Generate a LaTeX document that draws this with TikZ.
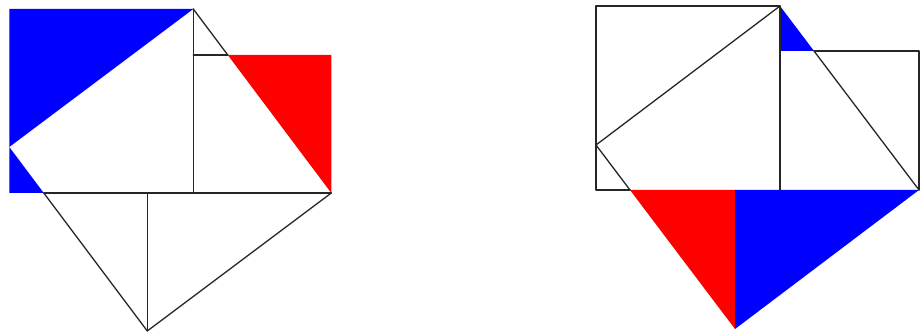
\documentclass[tikz,border=0pt]{standalone}
\usetikzlibrary{calc}
\tikzset{
  edge/.style={draw=black!85, line width=1.3pt, line cap=round, line join=round},
  bluefill/.style={fill={rgb,255:red,0;green,0;blue,255}},
  redfill/.style={fill={rgb,255:red,255;green,0;blue,0}},
}
% figure coordinates: #1 = a (big side), #2 = b (small side)
\newcommand{\pythpoints}[2]{%
  \pgfmathsetmacro{\pa}{#1}%
  \pgfmathsetmacro{\pb}{#2}%
  \pgfmathsetmacro{\pc}{#2*(#1-#2)/#1}%
  \coordinate (O) at (0,0);
  \coordinate (A) at (\pa,0);
  \coordinate (TL) at (0,\pa);
  \coordinate (P1) at (\pa,\pa);
  \coordinate (P2) at (\pa+\pb,0);
  \coordinate (P3) at (\pb,-\pb);
  \coordinate (P4) at (0,\pa-\pb);
  \coordinate (S1) at (\pa,\pb);
  \coordinate (S2) at (\pa+\pb,\pb);
  \coordinate (Q) at (\pa+\pc,\pb);
  \coordinate (R) at (\pc,0);
  \coordinate (M) at (\pb,0);
}
\begin{document}
\begin{tikzpicture}[x=1pt,y=1pt]
\useasboundingbox (0,0) rectangle (923,334);
\fill[white] (0,0) rectangle (923,334);
% left figure
\begin{scope}[shift={(9.3,141)}]
  \pythpoints{184}{138}
  \path[bluefill] (P4) -- (TL) -- (P1) -- cycle;
  \path[bluefill] (O) -- (P4) -- (R) -- cycle;
  \path[redfill] (Q) -- (S2) -- (P2) -- cycle;
  \draw[edge] (A) -- (P1);
  \draw[edge] (S1) -- (Q);
  \draw[edge] (R) -- (P2);
  \draw[edge] (P1) -- (Q);
  \draw[edge] (P2) -- (P3) -- (R);
  \draw[edge] (M) -- (P3);
\end{scope}
% right figure
\begin{scope}[shift={(596,144)}]
  \pythpoints{184}{139}
  \path[bluefill] (P1) -- (S1) -- (Q) -- cycle;
  \path[redfill] (R) -- (M) -- (P3) -- cycle;
  \path[bluefill] (M) -- (P2) -- (P3) -- cycle;
  \draw[edge] (R) -- (O) -- (TL) -- (P1) -- (A);
  \draw[edge] (Q) -- (S2) -- (P2);
  \draw[edge] (P4) -- (P1);
  \draw[edge] (Q) -- (P2);
  \draw[edge] (P4) -- (R);
\end{scope}
\end{tikzpicture}
\end{document}
